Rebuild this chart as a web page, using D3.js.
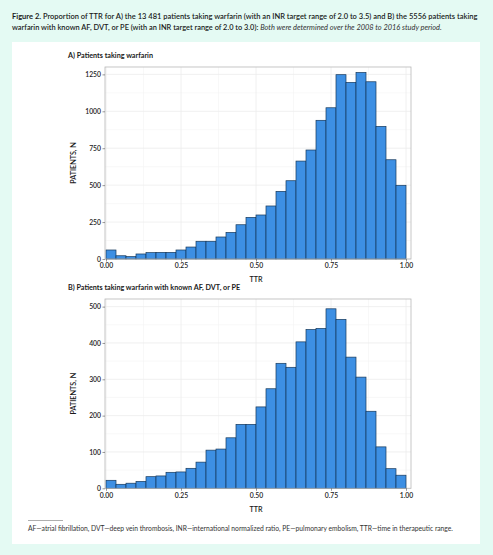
<!DOCTYPE html>
<html>
<head>
<meta charset="utf-8">
<script src="https://cdn.jsdelivr.net/npm/d3@7"></script>
<style>
  html, body { margin: 0; padding: 0; background: #e4faf3; }
  svg { display: block; }
  text { font-family: Lato, Roboto, "Noto Sans", sans-serif; }
</style>
</head>
<body>
<script>
// ---- data ----
const binCount = 30;
const countsA = [61, 22, 16, 34, 43, 45, 45, 61, 81, 120, 120, 149, 180, 232, 282, 298, 359, 458, 530, 663, 738, 939, 1024, 1248, 1196, 1263, 1200, 898, 672, 499];
const countsB = [22, 11, 14, 19, 32, 34, 44, 45, 55, 72, 105, 108, 139, 176, 176, 224, 274, 344, 333, 403, 437, 440, 494, 465, 361, 306, 212, 114, 54, 36];
const xTicks = [0, 0.25, 0.5, 0.75, 1];
const yTicksA = [0, 250, 500, 750, 1000, 1250];
const yTicksB = [0, 100, 200, 300, 400, 500];
const titleA = "A) Patients taking warfarin";
const titleB = "B) Patients taking warfarin with known AF, DVT, or PE";
const yLabel = "PATIENTS, N";
const xLabel = "TTR";

const W = 493, H = 555;
const svg = d3.select("body").append("svg").attr("width", W).attr("height", H);
svg.append("rect").attr("width", W).attr("height", H).attr("fill", "#e4faf3");
svg.append("rect").attr("x", 12).attr("y", 42).attr("width", 468).attr("height", 502).attr("fill", "#ffffff");

function fit(sel, target) {
  const w = sel.node().getComputedTextLength();
  const fs = parseFloat(sel.attr("font-size"));
  sel.attr("font-size", (fs * target / w).toFixed(3));
}

// header
const h1 = svg.append("text").attr("x", 12).attr("y", 18.5).attr("font-size", 8.5).attr("fill", "#1a1a1a");
h1.append("tspan").attr("font-weight", 700).text("Figure 2. ");
h1.append("tspan").attr("font-weight", 600).text("Proportion of TTR for A) the 13 481 patients taking warfarin (with an INR target range of 2.0 to 3.5) and B) the 5556 patients taking");
fit(h1, 466);
const h2 = svg.append("text").attr("x", 12).attr("y", 29.5).attr("font-size", 8.5).attr("fill", "#1a1a1a");
h2.append("tspan").attr("font-weight", 600).text("warfarin with known AF, DVT, or PE (with an INR target range of 2.0 to 3.0): ");
h2.append("tspan").attr("font-style", "italic").attr("font-weight", 400).attr("fill", "#333").text("Both were determined over the 2008 to 2016 study period.");
fit(h2, 431);

const bins = d3.range(binCount).map(i => ({ x0: i / binCount, x1: (i + 1) / binCount }));

function panel(opts) {
  const { counts, yMax, yTicks, frameTop, zeroY, title, titleY, xLabY } = opts;
  const x = d3.scaleLinear().domain([0, 1]).range([106, 406]);
  const y = d3.scaleLinear().domain([0, yMax]).range([zeroY, frameTop]);
  const g = svg.append("g");
  const fl = 105, fr = 411;

  g.append("text").attr("x", 68).attr("y", titleY).attr("font-size", 7.2).attr("font-weight", 700)
    .attr("fill", "#1a1a1a").text(title);

  // grid
  const step = yTicks[1] - yTicks[0];
  const minorY = yTicks.map(t => t + step / 2).filter(v => v <= yMax);
  const minorX = xTicks.slice(0, -1).map((t, i) => (t + xTicks[i + 1]) / 2);
  g.selectAll(".gmy").data(minorY).join("line")
    .attr("x1", fl).attr("x2", fr).attr("y1", d => y(d)).attr("y2", d => y(d))
    .attr("stroke", "#f4f4f4").attr("stroke-width", 0.6);
  g.selectAll(".gmx").data(minorX).join("line")
    .attr("y1", frameTop).attr("y2", zeroY).attr("x1", d => x(d)).attr("x2", d => x(d))
    .attr("stroke", "#f4f4f4").attr("stroke-width", 0.6);
  g.selectAll(".gy").data(yTicks).join("line")
    .attr("x1", fl).attr("x2", fr).attr("y1", d => y(d)).attr("y2", d => y(d))
    .attr("stroke", "#ececec").attr("stroke-width", 0.8);
  g.selectAll(".gx").data(xTicks).join("line")
    .attr("y1", frameTop).attr("y2", zeroY).attr("x1", d => x(d)).attr("x2", d => x(d))
    .attr("stroke", "#ececec").attr("stroke-width", 0.8);

  // bars
  g.selectAll(".bar").data(bins.map((b, i) => ({ ...b, n: counts[i] }))).join("rect")
    .attr("x", d => x(d.x0)).attr("width", d => x(d.x1) - x(d.x0))
    .attr("y", d => y(d.n)).attr("height", d => zeroY - y(d.n))
    .attr("fill", "#3d8fe3").attr("stroke", "#16385a").attr("stroke-width", 0.7);

  // frame
  g.append("rect").attr("x", fl).attr("y", frameTop).attr("width", fr - fl).attr("height", zeroY - frameTop)
    .attr("fill", "none").attr("stroke", "#b8b8b8").attr("stroke-width", 0.8);

  // axes
  const ax = g.append("g").attr("transform", `translate(0,${zeroY})`)
    .call(d3.axisBottom(x).tickValues(xTicks).tickFormat(d3.format(".2f")).tickSize(2.5).tickPadding(2));
  const ay = g.append("g").attr("transform", `translate(${fl},0)`)
    .call(d3.axisLeft(y).tickValues(yTicks).tickFormat(d3.format("d")).tickSize(2.5).tickPadding(1.5));
  [ax, ay].forEach(a => {
    a.select(".domain").remove();
    a.selectAll(".tick line").attr("stroke", "#555").attr("stroke-width", 0.6);
    a.selectAll(".tick text").attr("font-size", 6.8).attr("font-family", "Lato, Roboto, sans-serif")
      .attr("fill", "#222").attr("font-weight", 600);
  });

  g.append("text").attr("x", 256).attr("y", xLabY).attr("text-anchor", "middle")
    .attr("font-size", 7.2).attr("font-weight", 600).attr("fill", "#1a1a1a").text(xLabel);
  g.append("text").attr("transform", `translate(75.5,${(frameTop + zeroY) / 2}) rotate(-90)`)
    .attr("text-anchor", "middle").attr("font-size", 7.2).attr("font-weight", 600).attr("fill", "#1a1a1a").text(yLabel);
}

panel({ counts: countsA, yMax: 1300, yTicks: yTicksA, frameTop: 67, zeroY: 259, title: titleA, titleY: 57.5, xLabY: 281.5 });
panel({ counts: countsB, yMax: 521, yTicks: yTicksB, frameTop: 299, zeroY: 488.3, title: titleB, titleY: 289.5, xLabY: 512 });

// footnote
svg.append("line").attr("x1", 28).attr("x2", 63).attr("y1", 520.5).attr("y2", 520.5).attr("stroke", "#777").attr("stroke-width", 0.6);
const fn = svg.append("text").attr("x", 28).attr("y", 531).attr("font-size", 6.5).attr("fill", "#333")
  .text("AF\u2014atrial fibrillation, DVT\u2014deep vein thrombosis, INR\u2014international normalized ratio, PE\u2014pulmonary embolism, TTR\u2014time in therapeutic range.");
fit(fn, 425);
</script>
</body>
</html>
